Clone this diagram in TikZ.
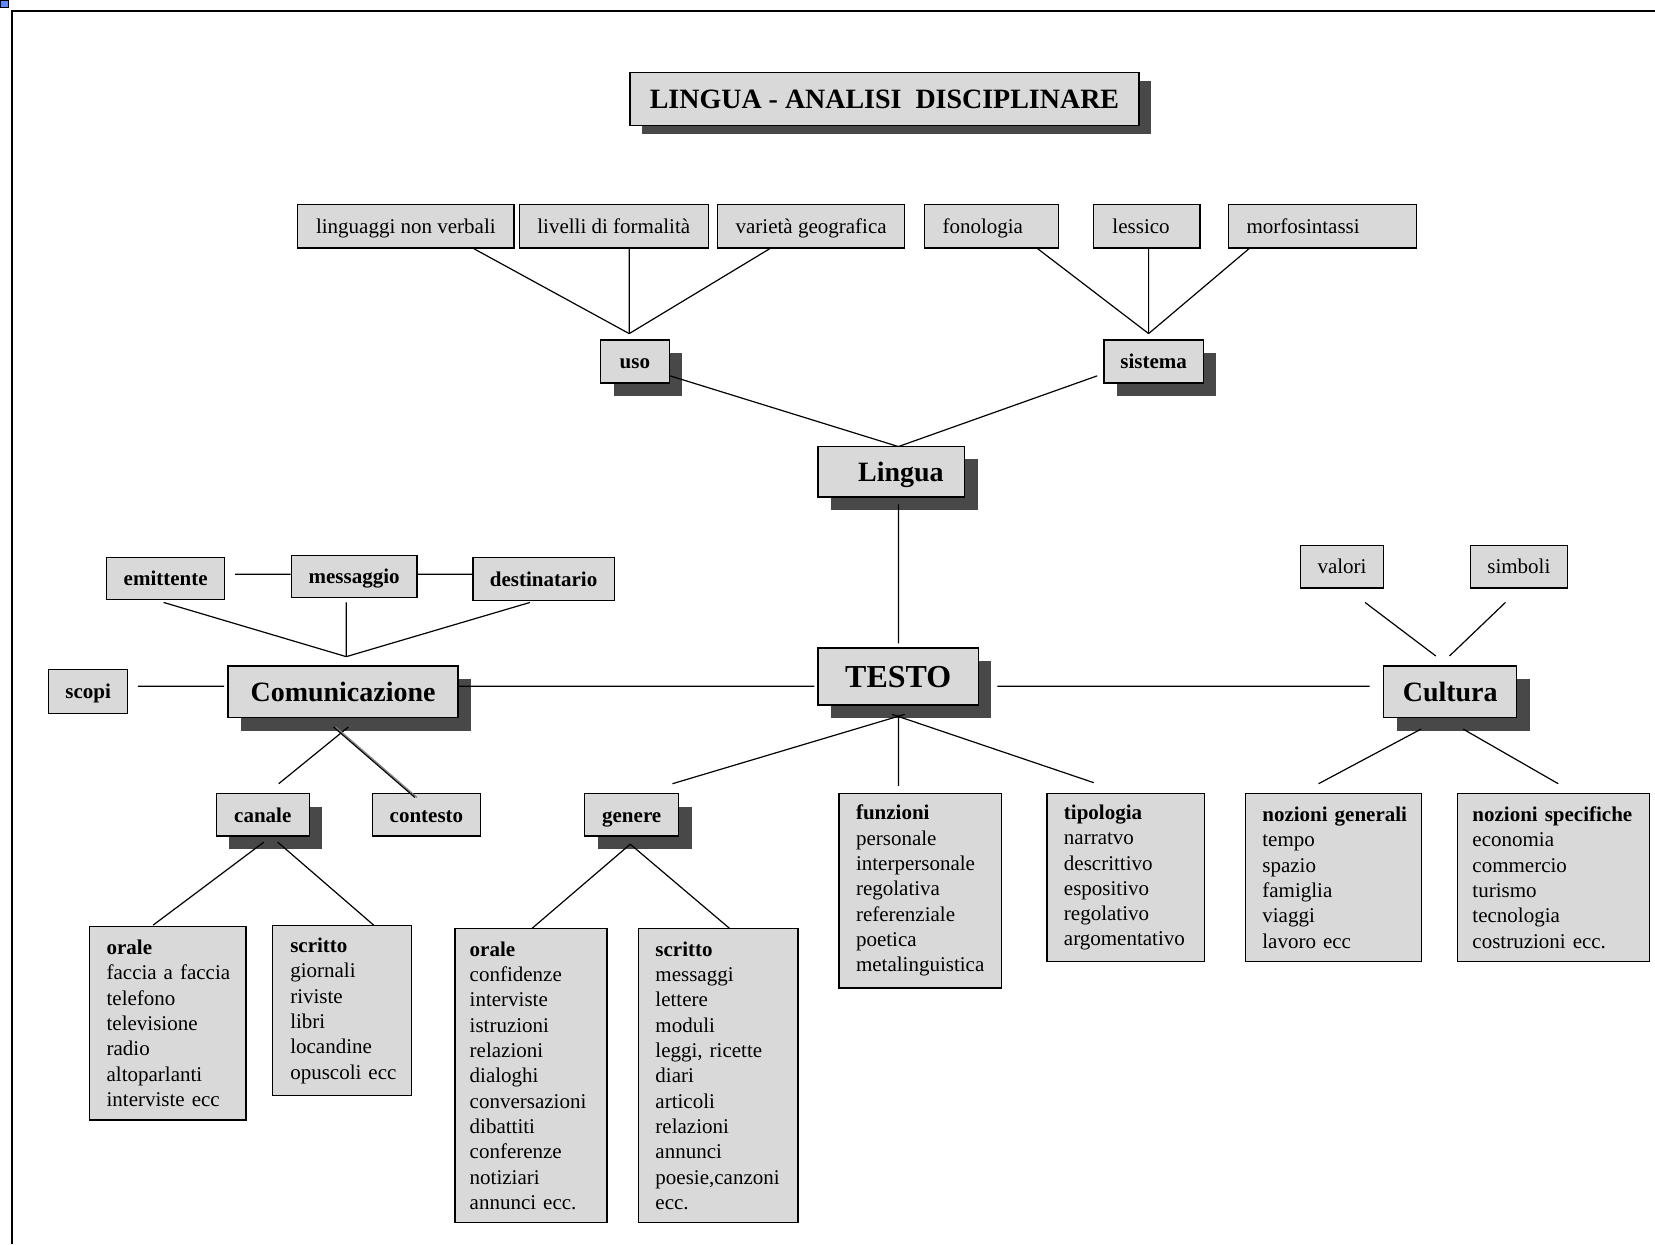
\documentclass[tikz,border=0pt]{standalone}
\usepackage{fontspec}
\setmainfont{Liberation Serif}
\usetikzlibrary{calc,shadows}
\definecolor{boxgray}{RGB}{217,217,217}
\definecolor{shadowgray}{RGB}{72,72,72}
\definecolor{cornerblue}{RGB}{94,139,255}
\newcommand{\plainfont}{\fontsize{19.9}{24}\selectfont}
\newcommand{\tagfont}{\fontsize{19.9}{24}\selectfont\bfseries}
\newcommand{\headfont}{\fontsize{26.5}{30}\selectfont\bfseries}
\newcommand{\testofont}{\fontsize{30.3}{34}\selectfont\bfseries}
\hyphenpenalty=10000
\exhyphenpenalty=10000

\begin{document}
\begin{tikzpicture}[
        x=1pt, y=-1pt, scale=1.0555, transform shape,
        oneline/.style={text height=18pt, text depth=4.4pt},
        box/.style={draw, fill=boxgray, line width=1.3pt, inner sep=0pt, font=\plainfont, oneline},
        tagbox/.style={box, font=\tagfont},
        headbox/.style={box, font=\headfont, text height=23.8pt, text depth=5.8pt},
        shadowed/.style={drop shadow={shadow xshift=13pt, shadow yshift=-13pt, fill=shadowgray, opacity=1}},
        listbox/.style={box, align=left, inner xsep=#1, text height=, text depth=},
        conn/.style={line width=1.2pt},
    ]
        \useasboundingbox (0,0) rectangle (1568,1179);
        \filldraw[fill=cornerblue, draw=black, line width=0.8pt] (0,0) rectangle (7.5,6.8);
        \draw[line width=1.6pt] (11.4,1179) -- (11.4,10.4) -- (1568,10.4);

        \node[headbox, minimum width=482pt, minimum height=50pt,
            drop shadow={shadow xshift=12pt, shadow yshift=-8pt, fill=shadowgray, opacity=1}]
            (title) at (838,94) {LINGUA - ANALISI\ \ DISCIPLINARE};

        % uso / sistema
        \node[box, minimum width=205pt, minimum height=41pt] (lnv) at (384.5,214.5) {linguaggi non verbali};
        \node[box, minimum width=179pt, minimum height=41pt] (ldf) at (581.5,214.5) {livelli di formalità};
        \node[box, minimum width=177pt, minimum height=41pt] (vgeo) at (768.5,214.5) {varietà geografica};
        \node[listbox=17pt, oneline, text width=93pt, minimum height=41pt] (fono) at (939.5,214.5) {fonologia};
        \node[listbox=18pt, oneline, text width=65pt, minimum height=41pt] (less) at (1086.5,214.5) {lessico};
        \node[listbox=17pt, oneline, text width=144pt, minimum height=41pt] (morf) at (1253,214.5) {morfosintassi};
        \node[tagbox, shadowed, minimum width=65pt, minimum height=41pt] (uso) at (601.5,342.5) {uso};
        \node[tagbox, shadowed, minimum width=94pt, minimum height=41pt] (sistema) at (1093,342.5) {sistema};
        \node[headbox, shadowed, minimum width=139pt, minimum height=48pt] (lingua) at (844.5,447) {\hspace*{18pt}Lingua};
        \node[box, shadowed, font=\testofont, text height=20.5pt, text depth=0pt, minimum width=152pt, minimum height=54pt] (testo) at (851,641) {TESTO};

        % comunicazione
        \node[headbox, shadowed, minimum width=218pt, minimum height=49pt] (comunicazione) at (325,655.5) {Comunicazione};
        \node[tagbox, minimum width=75pt, minimum height=42pt] (scopi) at (83.5,655) {scopi};
        \node[tagbox, minimum width=112pt, minimum height=40pt] (emittente) at (157,548) {emittente};
        \node[tagbox, minimum width=119pt, minimum height=40pt] (messaggio) at (335.5,546) {messaggio};
        \node[tagbox, minimum width=134pt, minimum height=41pt] (destinatario) at (515,548.5) {destinatario};
        \node[tagbox, shadowed, minimum width=88pt, minimum height=40pt] (canale) at (249,772) {canale};
        \node[tagbox, minimum width=102pt, minimum height=40pt] (contesto) at (404,772) {contesto};
        \node[tagbox, shadowed, minimum width=89pt, minimum height=40pt] (genere) at (598.5,772) {genere};

        % cultura
        \node[headbox, shadowed, minimum width=126pt, minimum height=49pt] (cultura) at (1374,655.5) {Cultura};
        \node[box, minimum width=79pt, minimum height=40pt] (valori) at (1271.5,537) {valori};
        \node[box, minimum width=92pt, minimum height=40pt] (simboli) at (1439,537) {simboli};

        % elenchi
        \node[listbox=16pt, text width=116pt, minimum height=183pt] (canaleOrale) at (159,969.5)
            {\textbf{orale}\\faccia~a~faccia\\telefono\\televisione\\radio\\altoparlanti\\interviste~ecc};
        \node[listbox=17pt, text width=98pt, minimum height=161pt] (canaleScritto) at (324,957.5)
            {\textbf{scritto}\\giornali\\riviste\\libri\\locandine\\opuscoli~ecc};
        \node[listbox=14pt, text width=116pt, minimum height=278pt] (genereOrale) at (503,1019)
            {\textbf{orale}\\confidenze\\interviste\\istruzioni\\relazioni\\dialoghi\\conversazioni\\dibattiti\\conferenze\\notiziari\\annunci~ecc.};
        \node[listbox=16pt, text width=119pt, minimum height=278pt] (genereScritto) at (680.5,1019)
            {\textbf{scritto}\\messaggi\\lettere\\moduli\\leggi,~ricette\\diari\\articoli\\relazioni\\annunci\\poesie,canzoni\\ecc.};
        \node[listbox=16pt, text width=122pt, minimum height=184pt] (funzioni) at (872,844)
            {\textbf{funzioni}\\personale\\interpersonale\\regolativa\\referenziale\\poetica\\metalinguistica};
        \node[listbox=16pt, text width=117pt, minimum height=159pt] (tipologia) at (1066.5,831.5)
            {\textbf{tipologia}\\narratvo\\descrittivo\\espositivo\\regolativo\\argomentativo};
        \node[listbox=16pt, text width=135pt, minimum height=159pt] (nozGen) at (1263.5,831.5)
            {\textbf{nozioni~generali}\\tempo\\spazio\\famiglia\\viaggi\\lavoro~ecc};
        \node[listbox=14pt, text width=154pt, minimum height=159pt] (nozSpec) at (1472,831.5)
            {\textbf{nozioni~specifiche}\\economia\\commercio\\turismo\\tecnologia\\costruzioni~ecc.};

        \coordinate (usoTop) at (596,316);
        \coordinate (sistemaTop) at (1088,316);
        \coordinate (linguaTop) at (851,423);
        \coordinate (comTop) at (328,622);

        % collegamenti
        \draw[conn] ($(lnv.south)+(64.5,0)$) -- (usoTop);
        \draw[conn] ($(ldf.south)+(14.5,0)$) -- (usoTop);
        \draw[conn] ($(vgeo.south)+(-39.5,0)$) -- (usoTop);
        \draw[conn] ($(fono.south)+(43.5,0)$) -- (sistemaTop);
        \draw[conn] ($(less.south)+(1.5,0)$) -- (sistemaTop);
        \draw[conn] ($(morf.south)+(-70,0)$) -- (sistemaTop);
        \draw[conn] ($(uso.east)+(0,13.5)$) -- (linguaTop);
        \draw[conn] ($(sistema.west)+(-6,13.5)$) -- (linguaTop);
        \draw[conn] ($(lingua.south)+(6.5,6)$) -- ($(testo.north)+(0,-4)$);
        \draw[conn] ($(comunicazione.east)+(0,-5.5)$) -- ($(testo.west)+(-3,9)$);
        \draw[conn] ($(testo.east)+(17,9)$) -- ($(cultura.west)+(-13,-5.5)$);
        \draw[conn] ($(scopi.east)+(9,-5)$) -- ($(comunicazione.west)+(-3,-5.5)$);
        \draw[conn] ($(emittente.east)+(9,-4)$) -- ($(messaggio.west)+(0,-2)$);
        \draw[conn] ($(messaggio.east)+(0,-2)$) -- ($(destinatario.west)+(0,-4.5)$);
        \draw[conn] ($(emittente.south)+(-2,2)$) -- (comTop);
        \draw[conn] ($(messaggio.south)+(-7.5,4)$) -- (comTop);
        \draw[conn] ($(destinatario.south)+(-13,1)$) -- (comTop);
        \draw[conn] ($(canale.north)+(15,-9)$) -- ($(comunicazione.south)+(5,8)$);
        \draw[conn, gray] ($(comunicazione.south)+(-7,8)$) -- ($(contesto.north)+(-9,4)$);
        \draw[conn] ($(comunicazione.south)+(-9,8)$) -- ($(contesto.north)+(-11,4)$);
        \draw[conn] ($(genere.north)+(38.5,-9)$) -- ($(testo.south)+(6,8)$);
        \draw[conn] ($(funzioni.north)+(-21,-7)$) -- ($(testo.south)+(0,9)$);
        \draw[conn] ($(tipologia.north)+(-30.5,-10)$) -- ($(testo.south)+(-6,8)$);
        \draw[conn] ($(cultura.south)+(-28,10)$) -- ($(nozGen.north)+(-14.5,-9)$);
        \draw[conn] ($(cultura.south)+(12,10)$) -- ($(nozSpec.north)+(4,-9)$);
        \draw[conn] ($(valori.south)+(21.5,13)$) -- ($(cultura.north)+(-14,-9)$);
        \draw[conn] ($(simboli.south)+(-13,13)$) -- ($(cultura.north)+(-1,-9)$);
        \draw[conn] ($(canale.south)+(1,5)$) -- ($(canaleOrale.north)+(-14,-1)$);
        \draw[conn] ($(canale.south)+(14,5)$) -- ($(canaleScritto.north)+(30,0)$);
        \draw[conn] ($(genere.south)+(-1.5,7)$) -- ($(genereOrale.north)+(1,0)$);
        \draw[conn] ($(genere.south)+(-1.5,7)$) -- ($(genereScritto.north)+(10.5,0)$);
    \end{tikzpicture}
\end{document}
